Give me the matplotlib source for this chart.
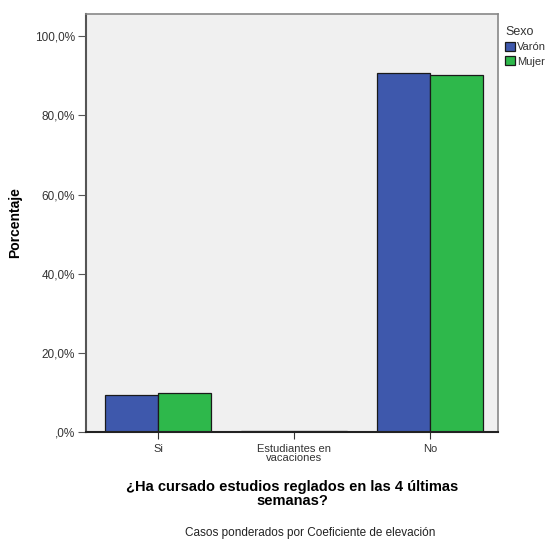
import numpy as np
import matplotlib.pyplot as plt
from matplotlib.ticker import FuncFormatter

categorias = ['Si', 'Estudiantes en\nvacaciones', 'No']
varon = [9.3, 0.2, 90.7]
mujer = [9.8, 0.2, 90.2]
series = ['Varón', 'Mujer']
colores = ['#3e58ac', '#2eb84b']

plt.rcParams['font.family'] = ['Liberation Sans', 'DejaVu Sans']

fig = plt.figure(figsize=(5.52, 5.39), dpi=100)
ax = fig.add_axes([0.156, 0.1985, 0.746, 0.7755])
ax.set_facecolor('#f0f0f0')

x = np.arange(len(categorias))
w = 0.39
ax.bar(x - w / 2, varon, w, color=colores[0], edgecolor='#1a1a1a', linewidth=0.9, label=series[0], zorder=2)
ax.bar(x + w / 2, mujer, w, color=colores[1], edgecolor='#1a1a1a', linewidth=0.9, label=series[1], zorder=2)

ax.set_xlim(-0.53, 2.5)
ax.set_ylim(0, 105.6)
ax.set_yticks([0, 20, 40, 60, 80, 100])
ax.yaxis.set_major_formatter(FuncFormatter(lambda v, p: ',0%' if v == 0 else f'{v:.1f}%'.replace('.', ',')))
ax.set_xticks(x)
ax.set_xticklabels(categorias, fontsize=8, color='#333333', linespacing=0.9)
ax.tick_params(axis='y', labelsize=8.5, colors='#555555', labelcolor='#333333', length=6, pad=2)
ax.tick_params(axis='x', length=5, colors='#333333')

for s in ['top', 'right']:
    ax.spines[s].set_color('#888888')
    ax.spines[s].set_linewidth(1.2)
ax.spines['left'].set_color('#555555')
ax.spines['left'].set_linewidth(1.5)
ax.spines['bottom'].set_color('#222222')
ax.spines['bottom'].set_linewidth(1.5)

ax.set_ylabel('Porcentaje', fontsize=10, fontweight='bold', labelpad=9)
ax.set_xlabel('¿Ha cursado estudios reglados en las 4 últimas\nsemanas?', fontsize=10.5,
              fontweight='bold', labelpad=12, linespacing=1.0)

leg = fig.legend(loc='upper left', bbox_to_anchor=(0.905, 0.962), title='Sexo', frameon=False,
                 fontsize=8, title_fontsize=9, handlelength=0.9, handleheight=0.9,
                 handletextpad=0.2, labelspacing=0.35, borderpad=0, alignment='left')
leg.get_title().set_color('#333333')
for t in leg.get_texts():
    t.set_color('#333333')

fig.text(0.335, 0.005, 'Casos ponderados por Coeficiente de elevación', fontsize=8.5, color='#222222')

fig.savefig('out.png', dpi=100, facecolor='white')
